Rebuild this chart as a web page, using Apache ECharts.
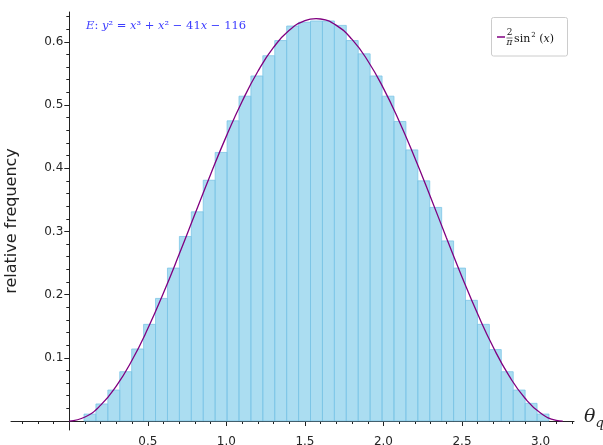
<!DOCTYPE html>
<html>
<head>
<meta charset="utf-8">
<script src="https://cdn.jsdelivr.net/npm/echarts@6/dist/echarts.min.js"></script>
<style>
  html, body { margin: 0; padding: 0; background: #fff; }
  #chart { width: 603px; height: 445px; }
</style>
</head>
<body>
<div id="chart"></div>
<script>
// histogram bins (radians) and relative frequency per bin
const binStart = 0.0936
const binWidth = 0.0759
const freq = [
  0.011, 0.027, 0.049, 0.078, 0.114, 0.153, 0.194, 0.242,
  0.292, 0.331, 0.381, 0.425, 0.475, 0.514, 0.546, 0.578,
  0.602, 0.625, 0.631, 0.633, 0.633, 0.626, 0.602,
  0.581, 0.546, 0.514, 0.474, 0.429, 0.380, 0.338, 0.285,
  0.242, 0.191, 0.153, 0.113, 0.078, 0.049, 0.028, 0.011
]

// sampled points of the reference curve 2/pi sin^2(x)
const curveX = [0, 0.1, 0.2, 0.3, 0.4, 0.5, 0.6, 0.7, 0.8, 0.9, 1.0, 1.1, 1.2, 1.3, 1.4, 1.5, 1.5708,
  1.6, 1.7, 1.8, 1.9, 2.0, 2.1, 2.2, 2.3, 2.4, 2.5, 2.6, 2.7, 2.8, 2.9, 3.0, 3.1, 3.1416]
const curveY = [0, 0.0063, 0.0251, 0.0556, 0.0965, 0.1463, 0.2030, 0.2642, 0.3276, 0.3906, 0.4508,
  0.5056, 0.5530, 0.5911, 0.6182, 0.6334, 0.6366, 0.6361, 0.6261, 0.6038, 0.5701, 0.5264, 0.4744,
  0.4161, 0.3540, 0.2905, 0.2280, 0.1692, 0.1163, 0.0714, 0.0364, 0.0127, 0.0011, 0]

// tick positions
const xMajor = [0.5, 1.0, 1.5, 2.0, 2.5, 3.0]
const xMinor = [0.1, 0.2, 0.3, 0.4, 0.6, 0.7, 0.8, 0.9, 1.1, 1.2, 1.3, 1.4,
  1.6, 1.7, 1.8, 1.9, 2.1, 2.2, 2.3, 2.4, 2.6, 2.7, 2.8, 2.9, 3.1, 3.2]
const xMinorNeg = [-0.3, -0.2, -0.1]
const yMajor = [0.1, 0.2, 0.3, 0.4, 0.5, 0.6]
const yMinor = [0.02, 0.04, 0.06, 0.08, 0.12, 0.14, 0.16, 0.18, 0.22, 0.24, 0.26, 0.28,
  0.32, 0.34, 0.36, 0.38, 0.42, 0.44, 0.46, 0.48, 0.52, 0.54, 0.56, 0.58, 0.62, 0.64]

const histData = freq.map((h, i) => [binStart + i * binWidth, binStart + (i + 1) * binWidth, h])
const curveData = curveX.map((x, i) => [x, curveY[i]])

const axisColor = '#222'
const X_NEG = -0.371, X_MAX = 3.213
const Y_MIN = -0.0142, Y_MAX = 0.6472

const chart = echarts.init(document.getElementById('chart'))

const option = {
  animation: false,
  grid: [
    // main plot, y axis sits at x = 0
    { left: 69.3, right: 29, top: 12, bottom: 15, containLabel: false, outerBoundsMode: 'none' },
    // the stub of the x axis left of zero
    { left: 11, width: 58.3, top: 12, bottom: 15, containLabel: false, outerBoundsMode: 'none' }
  ],
  xAxis: [
    {
      gridIndex: 0, type: 'value', position: 'bottom', min: 0, max: X_MAX,
      splitLine: { show: false },
      axisLine: { onZero: true, onZeroAxisIndex: 0, lineStyle: { color: axisColor, width: 1 } },
      axisTick: { customValues: xMajor, length: 5, lineStyle: { color: axisColor } },
      axisLabel: { customValues: xMajor, color: '#262626', fontSize: 12, fontFamily: 'DejaVu Sans', margin: 6,
        formatter: v => v.toFixed(1) },
      name: '{t|θ}{s|q}',
      nameLocation: 'end',
      nameGap: 10,
      nameTextStyle: {
        rich: {
          t: { fontFamily: 'DejaVu Serif', fontStyle: 'italic', fontSize: 19, color: '#222', padding: [0, 0, 8, 0] },
          s: { fontFamily: 'DejaVu Serif', fontStyle: 'italic', fontSize: 13, color: '#222', padding: [6, 0, 0, 0] }
        }
      }
    },
    {
      gridIndex: 0, type: 'value', position: 'bottom', min: 0, max: X_MAX,
      splitLine: { show: false },
      axisLine: { show: false, onZero: true, onZeroAxisIndex: 0 },
      axisTick: { customValues: xMinor, length: 3, lineStyle: { color: axisColor } },
      axisLabel: { show: false }
    },
    {
      gridIndex: 1, type: 'value', position: 'bottom', min: X_NEG, max: 0,
      splitLine: { show: false },
      axisLine: { onZero: true, onZeroAxisIndex: 2, lineStyle: { color: axisColor, width: 1 } },
      axisTick: { customValues: xMinorNeg, length: 3, lineStyle: { color: axisColor } },
      axisLabel: { show: false }
    }
  ],
  yAxis: [
    {
      gridIndex: 0, type: 'value', min: Y_MIN, max: Y_MAX, position: 'left',
      splitLine: { show: false },
      axisLine: { onZero: false, lineStyle: { color: axisColor, width: 1 } },
      axisTick: { customValues: yMajor, length: 5, lineStyle: { color: axisColor } },
      axisLabel: { customValues: yMajor, color: '#262626', fontSize: 12, fontFamily: 'DejaVu Sans', margin: 6,
        formatter: v => v.toFixed(1) },
      name: 'relative frequency',
      nameLocation: 'middle',
      nameGap: 49,
      nameTextStyle: { fontFamily: 'DejaVu Sans', fontSize: 16, color: '#222' }
    },
    {
      gridIndex: 0, type: 'value', min: Y_MIN, max: Y_MAX, position: 'left',
      splitLine: { show: false },
      axisLine: { show: false, onZero: false },
      axisTick: { customValues: yMinor, length: 3, lineStyle: { color: axisColor } },
      axisLabel: { show: false }
    },
    {
      gridIndex: 1, type: 'value', min: Y_MIN, max: Y_MAX, show: false
    }
  ],
  series: [
    {
      name: 'histogram',
      type: 'custom',
      xAxisIndex: 0,
      yAxisIndex: 0,
      encode: { x: [0, 1], y: 2 },
      data: histData,
      renderItem: (params, api) => {
        const p0 = api.coord([api.value(0), 0])
        const p1 = api.coord([api.value(1), api.value(2)])
        return {
          type: 'rect',
          shape: { x: p0[0], y: p1[1], width: p1[0] - p0[0], height: p0[1] - p1[1] },
          style: { fill: 'rgba(135,206,235,0.7)', stroke: 'rgba(120,195,230,0.75)', lineWidth: 1 }
        }
      },
      z: 2
    },
    {
      name: '2/π sin²(x)',
      type: 'line',
      xAxisIndex: 0,
      yAxisIndex: 0,
      data: curveData,
      smooth: true,
      showSymbol: false,
      lineStyle: { color: '#800080', width: 1.3 },
      z: 3
    }
  ],
  graphic: [
    {
      type: 'text',
      left: 86, top: 20,
      style: {
        text: '{i|E}{n|: }{i|y}{n|² = }{i|x}{n|³ + }{i|x}{n|² − 41}{i|x}{n| − 116}',
        rich: {
          i: { fontFamily: 'DejaVu Serif', fontStyle: 'italic', fontSize: 11.5, fill: '#3d3dff' },
          n: { fontFamily: 'DejaVu Serif', fontSize: 11.5, fill: '#3d3dff' }
        }
      }
    },
    {
      type: 'group',
      left: 491, top: 17,
      children: [
        { type: 'rect', shape: { x: 0.5, y: 0.5, width: 76, height: 38.5, r: 2 },
          style: { fill: '#fff', stroke: '#ccc', lineWidth: 1 } },
        { type: 'line', shape: { x1: 6, y1: 20, x2: 14, y2: 20 }, style: { stroke: '#800080', lineWidth: 1.5 } },
        { type: 'text', x: 18.5, y: 16, style: { text: '2', fontFamily: 'DejaVu Serif', fontSize: 9, fill: '#111', align: 'center', verticalAlign: 'middle' } },
        { type: 'line', shape: { x1: 15.5, y1: 21, x2: 21.5, y2: 21 }, style: { stroke: '#111', lineWidth: 0.6 } },
        { type: 'text', x: 18.5, y: 26, style: { text: 'π', fontFamily: 'DejaVu Serif', fontStyle: 'italic', fontSize: 9, fill: '#111', align: 'center', verticalAlign: 'middle' } },
        { type: 'text', x: 23, y: 22, style: {
          text: '{n|sin}{p|2}{n| (}{i|x}{n|)}',
          verticalAlign: 'middle',
          rich: {
            n: { fontFamily: 'DejaVu Serif', fontSize: 11, fill: '#111' },
            i: { fontFamily: 'DejaVu Serif', fontStyle: 'italic', fontSize: 11, fill: '#111' },
            p: { fontFamily: 'DejaVu Serif', fontSize: 7, fill: '#111', padding: [0, 0, 7, 1] }
          }
        } }
      ]
    }
  ]
}

chart.setOption(option)

window.addEventListener('resize', () => {
  chart.resize()
})
</script>
</body>
</html>
